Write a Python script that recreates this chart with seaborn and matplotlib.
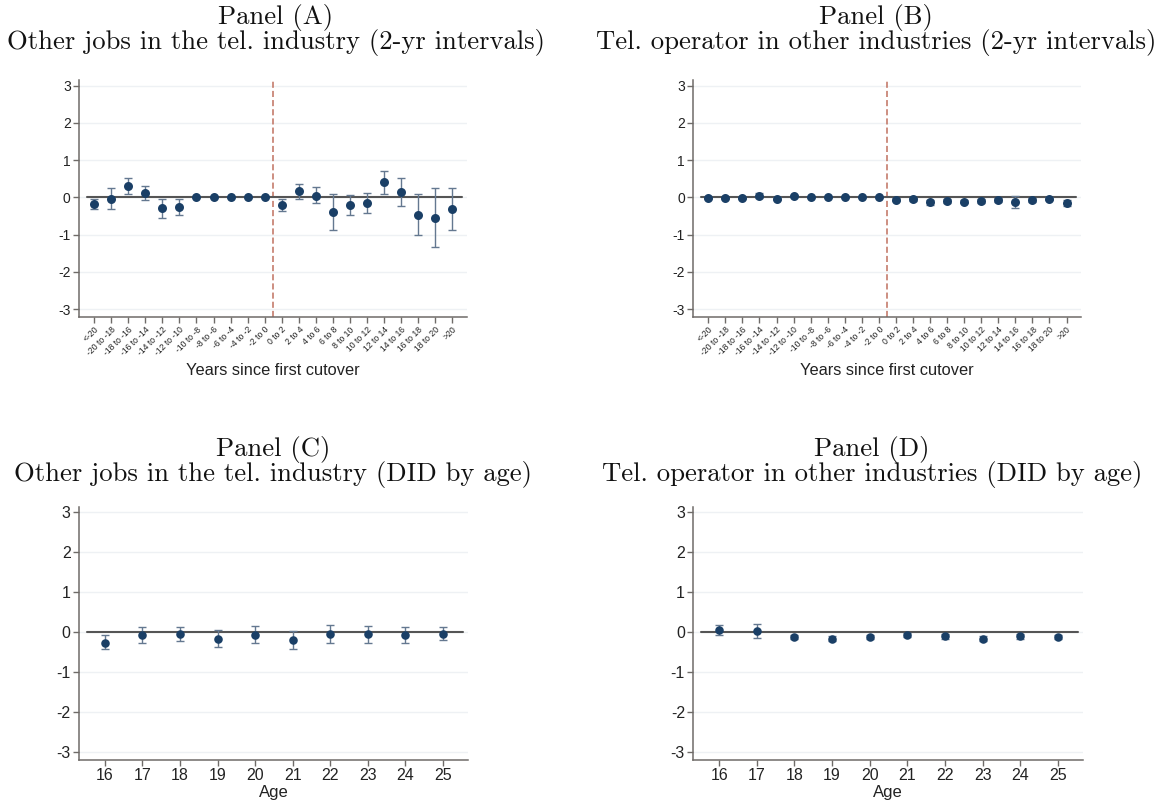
import numpy as np
import pandas as pd
import matplotlib
matplotlib.use("Agg")
import matplotlib.pyplot as plt
import seaborn as sns

# ---- data -------------------------------------------------------------
interval_labels = ["<-20", "-20 to -18", "-18 to -16", "-16 to -14", "-14 to -12",
                   "-12 to -10", "-10 to -8", "-8 to -6", "-6 to -4", "-4 to -2",
                   "-2 to 0", "0 to 2", "2 to 4", "4 to 6", "6 to 8", "8 to 10",
                   "10 to 12", "12 to 14", "14 to 16", "16 to 18", "18 to 20", ">20"]

# Panel A: other jobs in the telephone industry, 2-year event-time bins
a_coef = [-0.17, -0.04, 0.31, 0.11, -0.28, -0.26, 0.0, 0.0, 0.0, 0.0, 0.0,
          -0.20, 0.16, 0.05, -0.39, -0.20, -0.15, 0.41, 0.14, -0.46, -0.54, -0.32]
a_lo = [-0.31, -0.31, 0.10, -0.07, -0.55, -0.48, 0.0, 0.0, 0.0, 0.0, 0.0,
        -0.36, -0.03, -0.15, -0.87, -0.46, -0.43, 0.10, -0.23, -1.00, -1.32, -0.88]
a_hi = [-0.03, 0.25, 0.53, 0.30, -0.03, -0.03, 0.0, 0.0, 0.0, 0.0, 0.0,
        -0.03, 0.36, 0.27, 0.10, 0.06, 0.13, 0.71, 0.52, 0.10, 0.25, 0.25]

# Panel B: telephone operator in other industries, 2-year event-time bins
b_coef = [-0.02, -0.02, -0.02, 0.05, -0.04, 0.03, 0.0, 0.0, 0.0, 0.0, 0.0,
          -0.06, -0.05, -0.13, -0.09, -0.11, -0.09, -0.06, -0.11, -0.07, -0.03, -0.16]
b_lo = [-0.05, -0.05, -0.05, -0.01, -0.08, 0.00, 0.0, 0.0, 0.0, 0.0, 0.0,
        -0.10, -0.09, -0.20, -0.14, -0.15, -0.14, -0.11, -0.28, -0.13, -0.07, -0.24]
b_hi = [0.01, 0.01, 0.01, 0.11, 0.00, 0.06, 0.0, 0.0, 0.0, 0.0, 0.0,
        -0.02, -0.01, -0.06, -0.04, -0.07, -0.04, -0.01, 0.05, -0.01, 0.01, -0.08]

ages = [16, 17, 18, 19, 20, 21, 22, 23, 24, 25]

# Panel C: other jobs in the telephone industry, DID by age
c_coef = [-0.27, -0.075, -0.06, -0.17, -0.07, -0.21, -0.05, -0.06, -0.08, -0.05]
c_lo = [-0.44, -0.29, -0.24, -0.38, -0.28, -0.42, -0.27, -0.275, -0.28, -0.21]
c_hi = [-0.08, 0.13, 0.13, 0.04, 0.15, 0.01, 0.175, 0.15, 0.11, 0.11]

# Panel D: telephone operator in other industries, DID by age
d_coef = [0.04, 0.03, -0.13, -0.17, -0.13, -0.075, -0.11, -0.17, -0.11, -0.125]
d_lo = [-0.075, -0.15, -0.19, -0.23, -0.19, -0.13, -0.17, -0.23, -0.17, -0.18]
d_hi = [0.16, 0.20, -0.07, -0.11, -0.07, -0.02, -0.05, -0.11, -0.05, -0.07]

y_ticks = [3, 2, 1, 0, -1, -2, -3]
y_tick_labels = ["3", "2", "1", "0", "-1", "-2", "-3"]

# ---- style ------------------------------------------------------------
sns.set_theme(style="white")
plt.rcParams["font.family"] = ["Liberation Sans", "DejaVu Sans"]

NAVY = "#1a3f66"
ERR = "#647890"
ZERO = "#555555"
SPINE = "#6f6b68"
GRID = "#eef1f4"
CUT = "#c0705f"
TITLE_FONT = "cmr10"
TITLE_SIZE = 19.2

W, H = 1175, 806
fig = plt.figure(figsize=(W / 100, H / 100), dpi=100)


def px_axes(left, top, right, bottom):
    return fig.add_axes([left / W, 1 - bottom / H, (right - left) / W, (bottom - top) / H])


def style_axes(ax, tick_size):
    for s in ("top", "right"):
        ax.spines[s].set_visible(False)
    for s in ("left", "bottom"):
        ax.spines[s].set_color(SPINE)
        ax.spines[s].set_linewidth(1.1)
    ax.tick_params(axis="both", direction="out", length=4, width=1.0, color=SPINE,
                   labelcolor="#222222", labelsize=tick_size, pad=2,
                   left=True, bottom=True)
    ax.set_yticks(y_ticks)
    ax.set_yticklabels(y_tick_labels)
    ax.yaxis.grid(True, color=GRID, linewidth=1.0)
    ax.xaxis.grid(False)
    ax.set_axisbelow(True)
    ax.axhline(0, xmin=0.02, xmax=0.986, color=ZERO, linewidth=1.5, zorder=2)


def draw_points(ax, x, coef, lo, hi, msize):
    df = pd.DataFrame({"x": x, "coef": coef, "lo": lo, "hi": hi})
    ax.errorbar(df["x"], df["coef"],
                yerr=[df["coef"] - df["lo"], df["hi"] - df["coef"]],
                fmt="none", ecolor=ERR, elinewidth=1.0, capsize=3, capthick=1.0,
                zorder=3)
    sns.scatterplot(data=df, x="x", y="coef", ax=ax, color=NAVY, s=msize,
                    edgecolor=NAVY, linewidth=0, zorder=4, legend=False)


def event_panel(ax, coef, lo, hi):
    pos = np.arange(len(interval_labels))
    draw_points(ax, pos, coef, lo, hi, 42)
    style_axes(ax, 10)
    ax.axvline(10.5, color=CUT, linewidth=1.1, dashes=(4, 2), zorder=1)
    ax.set_xticks(pos)
    ax.set_xticklabels(interval_labels, rotation=45, ha="right",
                       rotation_mode="anchor", fontsize=6.2)
    ax.set_xlim(-0.88, 21.85)
    ax.set_ylim(-3.2, 3.15)
    ax.set_xlabel("Years since first cutover", fontsize=11.8, color="#222222",
                  labelpad=4)
    ax.set_ylabel("")


def age_panel(ax, coef, lo, hi):
    draw_points(ax, ages, coef, lo, hi, 38)
    style_axes(ax, 11.5)
    ax.set_xticks(ages)
    ax.set_xticklabels([str(a) for a in ages])
    ax.set_xlim(15.31, 25.67)
    ax.set_ylim(-3.2, 3.12)
    ax.set_xlabel("Age", fontsize=12, color="#222222", labelpad=1)
    ax.set_ylabel("")


ax_a = px_axes(79, 80, 467, 316.7)
ax_b = px_axes(693.3, 80, 1081, 316.7)
ax_c = px_axes(79, 506.7, 468, 760)
ax_d = px_axes(693.3, 506.7, 1083, 760)

event_panel(ax_a, a_coef, a_lo, a_hi)
event_panel(ax_b, b_coef, b_lo, b_hi)
age_panel(ax_c, c_coef, c_lo, c_hi)
age_panel(ax_d, d_coef, d_lo, d_hi)


def panel_title(cx, base1, base2, head, sub):
    fig.text(cx / W, 1 - base1 / H, head, family=TITLE_FONT, fontsize=TITLE_SIZE,
             ha="center", va="baseline", color="#111111")
    fig.text(cx / W, 1 - base2 / H, sub, family=TITLE_FONT, fontsize=TITLE_SIZE,
             ha="center", va="baseline", color="#111111")


panel_title(276, 24, 49, "Panel (A)", "Other jobs in the tel. industry (2-yr intervals)")
panel_title(876, 24, 49, "Panel (B)", "Tel. operator in other industries (2-yr intervals)")
panel_title(273, 456, 481, "Panel (C)", "Other jobs in the tel. industry (DID by age)")
panel_title(872, 456, 481, "Panel (D)", "Tel. operator in other industries (DID by age)")

fig.savefig("out.png", dpi=100)
